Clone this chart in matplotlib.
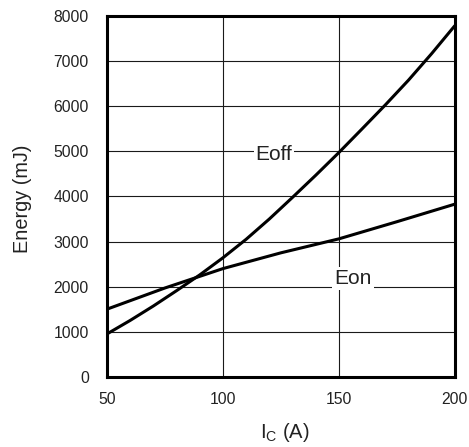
import matplotlib
matplotlib.use("Agg")
import matplotlib.pyplot as plt

plt.rcParams['font.family'] = ['Liberation Sans', 'DejaVu Sans']
plt.rcParams['mathtext.fontset'] = 'custom'
plt.rcParams['mathtext.rm'] = 'Liberation Sans'

ic = [50, 60, 70, 80, 90, 100, 110, 120, 130, 140, 150, 160, 170, 180, 190, 200]
eoff = [950, 1250, 1570, 1910, 2260, 2640, 3050, 3500, 3980, 4470, 4975, 5500, 6030, 6580, 7170, 7790]
ic_on = [50, 75, 100, 125, 150, 175, 200]
eon = [1500, 1970, 2400, 2750, 3060, 3440, 3830]

xticks = [50, 100, 150, 200]
yticks = [0, 1000, 2000, 3000, 4000, 5000, 6000, 7000, 8000]

TXT = '#222222'

fig = plt.figure(figsize=(4.69, 4.47), dpi=100)
ax = fig.add_axes([0.228, 0.157, 0.742, 0.807])

ax.plot(ic, eoff, color='black', lw=2.2, solid_capstyle='butt', solid_joinstyle='round', zorder=3)
ax.plot(ic_on, eon, color='black', lw=2.2, solid_capstyle='butt', solid_joinstyle='round', zorder=3)

ax.set_xlim(50, 200)
ax.set_ylim(0, 8000)
ax.set_xticks(xticks)
ax.set_yticks(yticks)
ax.grid(True, color='#1a1a1a', lw=0.8, zorder=1)
ax.set_axisbelow(True)
ax.tick_params(length=0, labelsize=11.3, colors=TXT)
ax.tick_params(axis='y', pad=13)
ax.tick_params(axis='x', pad=11)
for s in ax.spines.values():
    s.set_linewidth(2.2)
    s.set_zorder(4)

ax.text(122, 4800, 'Eoff', fontsize=15, ha='center', va='baseline', color=TXT,
        bbox=dict(facecolor='white', edgecolor='none', pad=1.5), zorder=2)
ax.text(156, 2060, 'Eon', fontsize=15, ha='center', va='baseline', color=TXT,
        bbox=dict(facecolor='white', edgecolor='none', pad=1.5), zorder=2)

fig.text(285 / 469, 1 - 433 / 447, r'I$_\mathrm{C}$ (A)', fontsize=14.5, color=TXT,
         ha='center', va='center')
fig.text(22 / 469, 1 - 199 / 447, 'Energy (mJ)', fontsize=14.3, color=TXT,
         ha='center', va='center', rotation=90)

fig.savefig('out.png', dpi=100)
